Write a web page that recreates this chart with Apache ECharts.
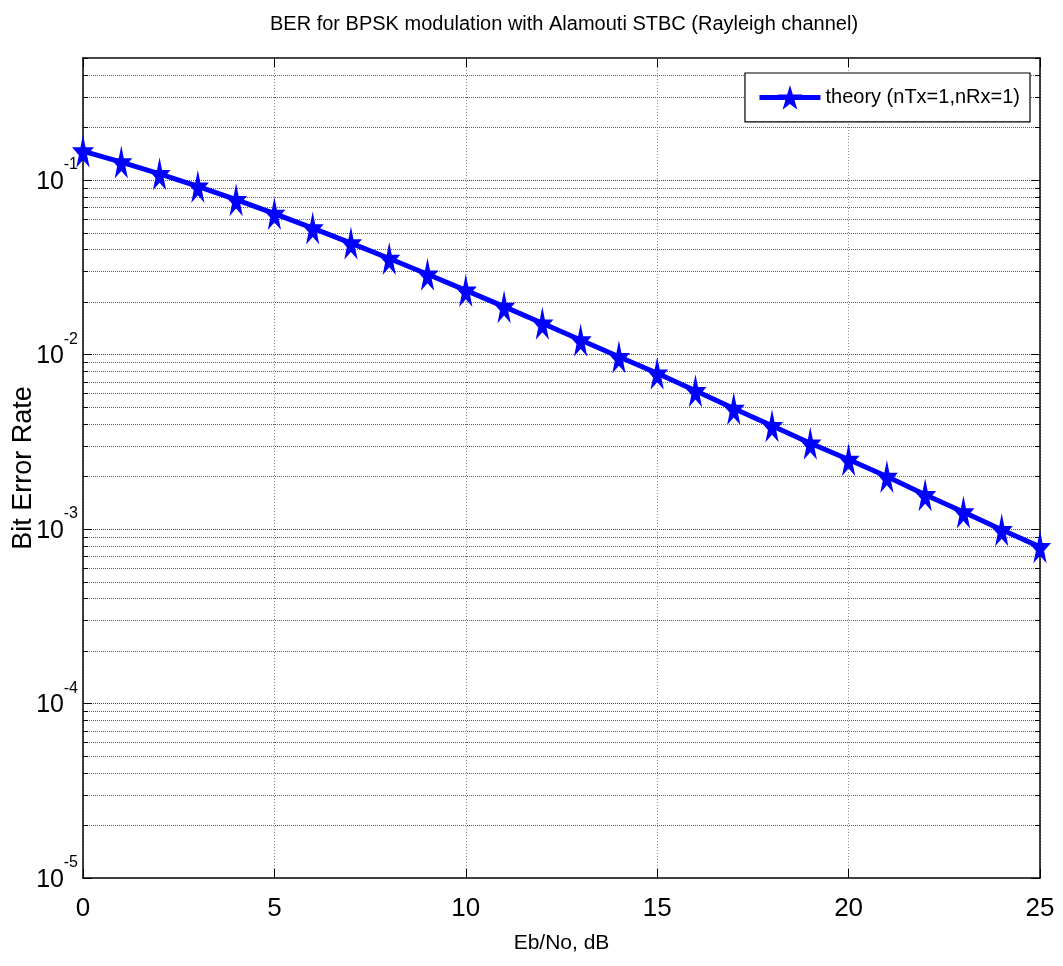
<!DOCTYPE html>
<html><head><meta charset="utf-8">
<script src="https://cdn.jsdelivr.net/npm/echarts@6/dist/echarts.min.js"></script>
<style>html,body{margin:0;padding:0;background:#fff}#c{width:1063px;height:966px}</style>
</head><body><div id="c"></div>
<script>
const ebNoDb = [0,1,2,3,4,5,6,7,8,9,10,11,12,13,14,15,16,17,18,19,20,21,22,23,24,25];
const berTheory = [0.1464,0.1267,0.1085,0.0919,0.0771,0.0642,0.0530,0.0435,0.0355,0.0288,
  0.0233,0.0188,0.0151,0.0121,0.0097,0.0078,0.0062,0.0049,0.0039,0.0031,
  0.0025,0.0020,0.00157,0.00125,0.00099,0.00079];
const xTicks = [0,5,10,15,20,25];
const yDecadeExponents = [-5,-4,-3,-2,-1];
const titleText = 'BER for BPSK modulation with Alamouti STBC (Rayleigh channel)';
const xName = 'Eb/No, dB';
const yName = 'Bit Error Rate';
const legendName = 'theory (nTx=1,nRx=1)';
const X_MIN = 0, X_MAX = 25, Y_MIN = 1e-5, Y_MAX = 0.5;

// gridline positions (axis structure: every 1..9 x decade up to Y_MAX)
const gridValues = [];
yDecadeExponents.forEach(e => {
  for (let m = 1; m <= 9; m++) {
    const v = m * Math.pow(10, e);
    if (v <= Y_MAX * 1.0001) gridValues.push([0, v, m === 1 ? 1 : 0]);
  }
});

const sans = "'Liberation Sans',Arial,Helvetica,sans-serif";
const star = 'path://M50,0 L61,35 L98,35 L68,57 L79,91 L50,70 L21,91 L32,57 L2,35 L39,35 Z';

function renderGrid(params, api) {
  const v = api.value(1);
  const major = api.value(2) === 1;
  const cs = params.coordSys;
  const y = Math.round(api.coord([0, v])[1]) + 0.5;
  const tl = major ? 9 : 5;
  return {type: 'group', children: [
    {type: 'line', shape: {x1: cs.x, y1: y, x2: cs.x + cs.width, y2: y},
      style: {stroke: major ? '#444' : '#5e5e5e', lineWidth: 1, lineDash: [1, 1]}},
    {type: 'line', shape: {x1: cs.x, y1: y, x2: cs.x + tl, y2: y}, style: {stroke: '#000', lineWidth: 1}},
    {type: 'line', shape: {x1: cs.x + cs.width - tl, y1: y, x2: cs.x + cs.width, y2: y}, style: {stroke: '#000', lineWidth: 1}}
  ]};
}

function yLabel(v) {
  const l = Math.log10(v);
  const e = Math.round(l);
  if (Math.abs(l - e) > 1e-6) return '';
  return '{s|' + e + '}\n{b|10}';
}

const chart = echarts.init(document.getElementById('c'), null, {renderer: 'canvas'});
chart.setOption({
  animation: false,
  backgroundColor: '#fff',
  title: {text: titleText, left: 265, top: 9,
    textStyle: {fontFamily: sans, fontSize: 20, fontWeight: 'normal', color: '#000'}},
  grid: {left: 83, right: 23, top: 58, bottom: 88, containLabel: false, outerBoundsMode: 'none'},
  legend: {
    data: [legendName], right: 33, top: 73, orient: 'vertical',
    backgroundColor: '#fff', borderColor: '#000', borderWidth: 1.2,
    padding: [12, 10, 12, 12], itemWidth: 61, itemHeight: 31, itemGap: 0,
    lineStyle: {width: 5},
    textStyle: {fontFamily: sans, fontSize: 20, color: '#000'}
  },
  xAxis: [{
    type: 'value', min: X_MIN, max: X_MAX, interval: 5,
    name: xName, nameLocation: 'middle', nameGap: 55,
    nameTextStyle: {fontFamily: sans, fontSize: 21, color: '#000'},
    axisLine: {show: true, onZero: false, lineStyle: {color: '#000', width: 1.5}},
    axisTick: {show: true, inside: true, length: 9, lineStyle: {color: '#000'}},
    axisLabel: {margin: 18, fontFamily: sans, fontSize: 26, color: '#000'},
    splitLine: {show: true, lineStyle: {color: '#8a8a8a', type: [1, 2], width: 1}}
  }, {
    type: 'value', min: X_MIN, max: X_MAX, interval: 5, position: 'top',
    axisLine: {show: true, onZero: false, lineStyle: {color: '#000', width: 1.5}},
    axisTick: {show: true, inside: true, length: 9, lineStyle: {color: '#000'}},
    axisLabel: {show: false}, splitLine: {show: false}
  }],
  yAxis: [{
    type: 'log', logBase: 10, min: Y_MIN, max: Y_MAX,
    name: yName, nameLocation: 'middle', nameGap: 46, nameRotate: 90, nameMoveOverlap: false,
    nameTextStyle: {fontFamily: sans, fontSize: 27, color: '#000'},
    axisLine: {show: true, onZero: false, lineStyle: {color: '#000', width: 1.5}},
    axisTick: {show: false},
    axisLabel: {margin: 5, formatter: yLabel, color: '#000', padding: [0, 0, 6, 0], align: 'right',
      rich: {
        s: {fontFamily: sans, fontSize: 16, lineHeight: 10, color: '#000', align: 'right'},
        b: {fontFamily: sans, fontSize: 25, lineHeight: 24, color: '#000', align: 'right', padding: [0, 14, 0, 0]}
      }},
    splitLine: {show: false}
  }, {
    type: 'log', logBase: 10, min: Y_MIN, max: Y_MAX, position: 'right',
    axisLine: {show: true, onZero: false, lineStyle: {color: '#000', width: 1.5}},
    axisTick: {show: false}, axisLabel: {show: false}, splitLine: {show: false}
  }],
  series: [{
    type: 'custom', name: 'grid', silent: true, z: 1,
    xAxisIndex: 0, yAxisIndex: 0,
    renderItem: renderGrid, data: gridValues, encode: {x: 0, y: 1}
  }, {
    type: 'line', name: legendName, z: 5,
    xAxisIndex: 0, yAxisIndex: 0,
    data: ebNoDb.map((x, i) => [x, berTheory[i]]),
    color: '#0000ff',
    lineStyle: {color: '#0000ff', width: 5},
    itemStyle: {color: '#0000ff'},
    symbol: star, symbolSize: [22, 33], showSymbol: true
  }]
});
</script></body></html>
